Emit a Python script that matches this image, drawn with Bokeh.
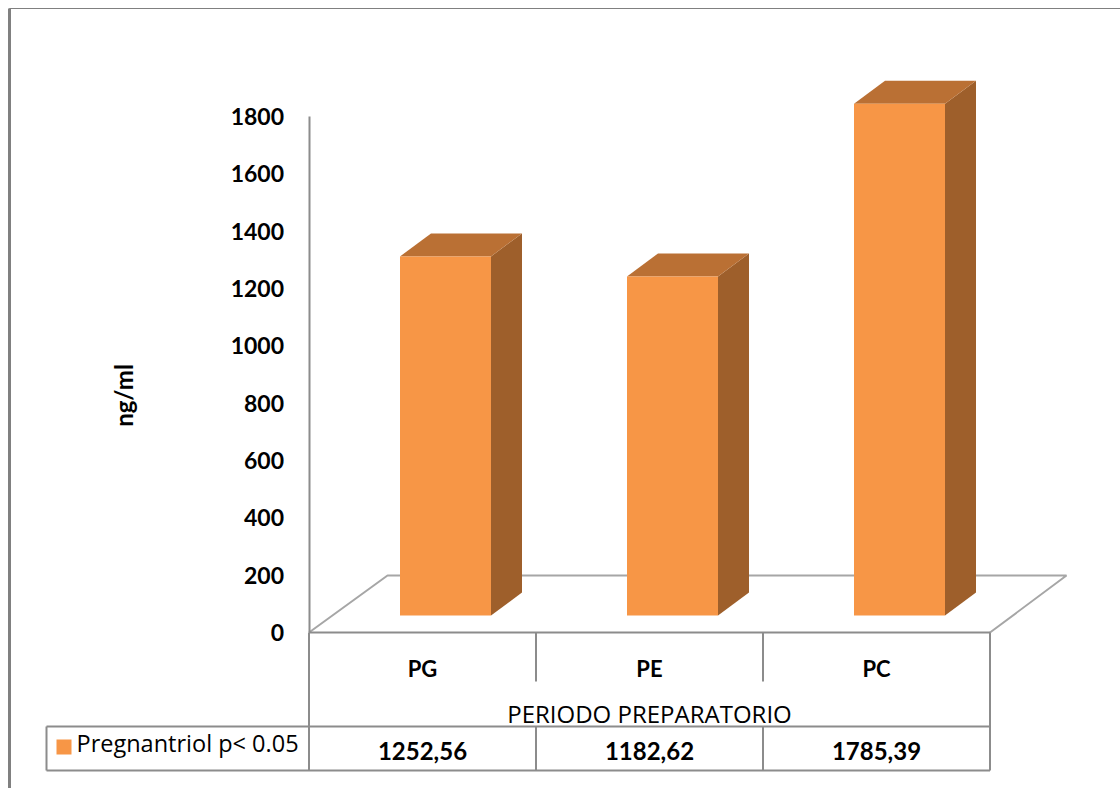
from bokeh.core.properties import value
from bokeh.embed import file_html
from bokeh.models import FixedTicker, LinearAxis, Range1d
from bokeh.plotting import figure
from bokeh.resources import INLINE

# Chart data
categories = ["PG", "PE", "PC"]
pregnantriol = [1252.56, 1182.62, 1785.39]
y_ticks = [0, 200, 400, 600, 800, 1000, 1200, 1400, 1600, 1800]
series_label = "Pregnantriol p< 0.05"
x_title = "PERIODO PREPARATORIO"
y_title = "ng/ml"

# Page geometry, in pixels
WIDTH, HEIGHT = 1120, 788
AXIS_X, ZERO_Y = 308.5, 632
CELL = 227
PX_PER_UNIT = 516 / 1800
BOLD_FONT = value("Lato")
TEXT_FONT = value("Open Sans")
GREY = "#8c8c8c"
FRONT, SIDE, TOP = "#f79646", "#9e5f2b", "#ba7034"

# Data ranges span the whole page: x in category slots, y in ng/ml
x_range = Range1d((0 - AXIS_X) / CELL - 0.5, (WIDTH - AXIS_X) / CELL - 0.5)
y_range = Range1d((ZERO_Y - HEIGHT) / PX_PER_UNIT, ZERO_Y / PX_PER_UNIT)

p = figure(width=WIDTH, height=HEIGHT, x_range=x_range, y_range=y_range,
           output_backend="svg", toolbar_location=None,
           x_axis_location=None, y_axis_location=None, min_border=0)
p.outline_line_color = None
p.grid.visible = False
p.background_fill_color = "#ffffff"
p.border_fill_color = "#ffffff"
p.extra_x_ranges["page"] = Range1d(0, WIDTH)
p.extra_y_ranges["page"] = Range1d(HEIGHT, 0)
PAGE = dict(x_range_name="page", y_range_name="page")

# Outer frame, open on the right and at the bottom
p.line([9, 9, WIDTH], [HEIGHT, 8, 8], line_color="#808080", line_width=1, **PAGE)
p.line([9, 9], [HEIGHT, 8], line_color="#808080", line_width=3, **PAGE)

# Floor of the 3D plot area
p.line([AXIS_X, 387, 1066, 989.5], [ZERO_Y, 575, 575, ZERO_Y], line_color="#a6a6a6", line_width=2, **PAGE)

# Bars: front face, side face and top face
BAR_W = 91 / CELL
BAR_SHIFT = 23 / CELL
DEPTH_X = 31 / CELL
DEPTH_Y = 23 / PX_PER_UNIT
BASE = 17 / PX_PER_UNIT
for i, v in enumerate(pregnantriol):
    x0 = i + BAR_SHIFT - BAR_W / 2
    x1 = x0 + BAR_W
    y0, y1 = BASE, BASE + v
    p.patch([x1, x1 + DEPTH_X, x1 + DEPTH_X, x1], [y0, y0 + DEPTH_Y, y1 + DEPTH_Y, y1],
            fill_color=SIDE, line_color=None)
    p.patch([x0, x0 + DEPTH_X, x1 + DEPTH_X, x1], [y1, y1 + DEPTH_Y, y1 + DEPTH_Y, y1],
            fill_color=TOP, line_color=None)
    p.patch([x0, x1, x1, x0], [y0, y0, y1, y1], fill_color=FRONT, line_color=None)

# Value axis
axis = LinearAxis(fixed_location=-0.5, bounds=(0, 1800), ticker=FixedTicker(ticks=y_ticks))
axis.axis_line_color = GREY
axis.axis_line_width = 2
axis.major_tick_line_color = None
axis.minor_tick_line_color = None
axis.major_label_standoff = 19
axis.major_label_text_font = "Lato"
axis.major_label_text_font_size = "23px"
axis.major_label_text_font_style = "bold"
axis.major_label_text_color = "#000000"
p.add_layout(axis, "left")

# Category strip and data table rules
rules_x = [[AXIS_X, AXIS_X], [989.5, 989.5], [535.5, 535.5], [762.5, 762.5], [535.5, 535.5], [762.5, 762.5],
           [46, 46], [AXIS_X, 989.5], [46, 989.5], [46, 989.5]]
rules_y = [[ZERO_Y, 770], [ZERO_Y, 770], [ZERO_Y, 681], [ZERO_Y, 681], [726, 770], [726, 770], [726, 770],
           [ZERO_Y, ZERO_Y], [726, 726], [770, 770]]
p.multi_line(rules_x, rules_y, line_color=GREY, line_width=2, **PAGE)

# Category names and table values, one per category slot
slots = list(range(len(categories)))
p.text(slots, [(ZERO_Y - 668) / PX_PER_UNIT] * 3, text=categories, text_font=BOLD_FONT,
       text_font_size="22px", text_font_style="bold", text_align="center", text_baseline="middle")
p.text(slots, [(ZERO_Y - 750) / PX_PER_UNIT] * 3, text=[f"{v:.2f}".replace(".", ",") for v in pregnantriol],
       text_font=BOLD_FONT, text_font_size="24px", text_font_style="bold",
       text_align="center", text_baseline="middle")

# Axis titles
p.text([649], [713], text=[x_title], text_font=TEXT_FONT, text_font_size="24px",
       text_align="center", text_baseline="middle", **PAGE)
p.text([123], [395], text=[y_title], angle=1.5708, text_font=BOLD_FONT, text_font_size="24px",
       text_font_style="bold", text_align="center", text_baseline="middle", **PAGE)

# Legend key inside the table
p.quad(left=[56], right=[71], top=[739], bottom=[754], fill_color=FRONT, line_color=None, **PAGE)
p.text([76], [742], text=[series_label], text_font=TEXT_FONT, text_font_size="23.5px",
       text_align="left", text_baseline="middle", **PAGE)

open("out.html", "w").write(file_html(p, INLINE))
